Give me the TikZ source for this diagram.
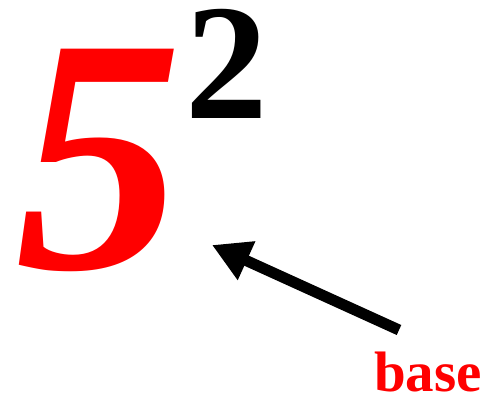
\documentclass[tikz,border=0pt]{standalone}
\usepackage{fontspec}
\setmainfont{Liberation Serif}
\usetikzlibrary{arrows.meta}
\begin{document}
\begin{tikzpicture}[x=1pt,y=-1pt]
\colorlet{basecol}{red}
\tikzset{digit/.style={inner sep=0pt,anchor=base west,font=\bfseries},
         pointer/.style={line width=11pt,-{Triangle[length=38pt,width=40pt]}}}
\useasboundingbox (0,0) rectangle (502,396);

% the power
\node[digit,text=basecol,font=\bfseries\itshape\fontsize{335}{335}\selectfont] (five) at (15,268) {5};
\node[digit,font=\bfseries\fontsize{165}{165}\selectfont] (two) at (185,118) {2};

% the label and its arrow
\node[digit,text=basecol,font=\bfseries\fontsize{57}{57}\selectfont] (lbl) at (374,391) {base};
\coordinate (tail) at (399,330);
\coordinate (tip) at (212,245);
\draw[pointer] (tail) -- (tip);
\end{tikzpicture}
\end{document}
